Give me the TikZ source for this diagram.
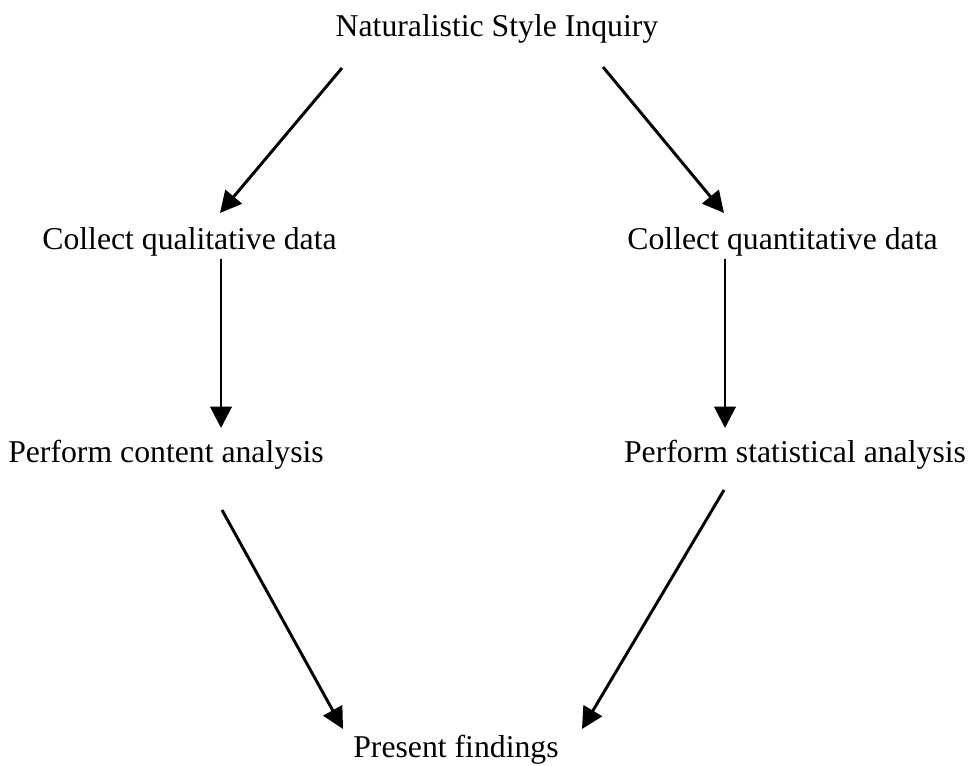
\documentclass[tikz,border=0pt]{standalone}
\usepackage{fontspec}
\setmainfont{Liberation Serif}
\usetikzlibrary{arrows.meta,calc}
\begin{document}
\begin{tikzpicture}[x=0.75pt,y=-0.75pt,
  lbl/.style={anchor=base,inner sep=0pt,font=\fontsize{23.8}{28}\selectfont},
  arr/.style={line width=2.2pt,-{Triangle[length=16pt,width=16pt]}}]
\useasboundingbox (0,0) rectangle (972,766);
\node[lbl] (nsi) at (497,37) {Naturalistic Style Inquiry};
\node[lbl] (cql) at (189.5,250) {Collect qualitative data};
\node[lbl] (cqn) at (782.5,250) {Collect quantitative data};
\node[lbl] (pca) at (166,463) {Perform content analysis};
\node[lbl] (psa) at (795,463) {Perform statistical analysis};
\node[lbl] (pf) at (456,757) {Present findings};
\draw[arr] ($(nsi.base)+(-155,31)$) -- ($(cql.base)+(30.5,-37)$);
\draw[arr] ($(nsi.base)+(106,30)$) -- ($(cqn.base)+(-58.5,-37)$);
\draw[arr] ($(cql.base)+(31.5,9)$) -- ($(pca.base)+(55,-35)$);
\draw[arr] ($(cqn.base)+(-57.5,9)$) -- ($(psa.base)+(-70,-35)$);
\draw[arr] ($(pca.base)+(56,47)$) -- ($(pf.base)+(-113,-28)$);
\draw[arr] ($(psa.base)+(-71,27)$) -- ($(pf.base)+(126,-28)$);
\end{tikzpicture}
\end{document}
